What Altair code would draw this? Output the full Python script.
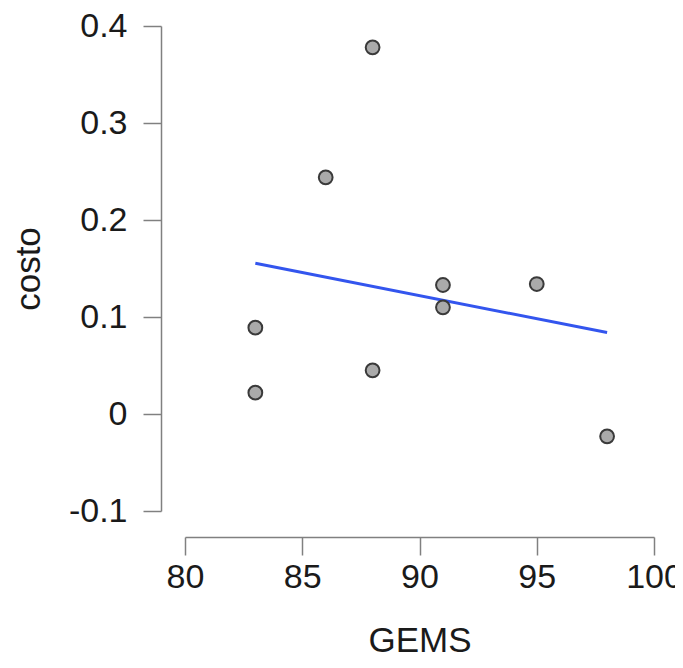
import altair as alt
import pandas as pd

gems = [83, 83, 86, 88, 88, 91, 91, 95, 98]
costo = [0.089, 0.022, 0.244, 0.378, 0.045, 0.133, 0.110, 0.134, -0.023]
x_ticks = [80, 85, 90, 95, 100]
y_ticks = [-0.1, 0, 0.1, 0.2, 0.3, 0.4]

df = pd.DataFrame({"GEMS": gems, "costo": costo})

FONT = "Liberation Sans"
FS = 34
TFS = 35
AX = "#808080"
TXT = "#1a1a1a"

x_enc = alt.X(
    "GEMS:Q",
    scale=alt.Scale(domain=[80, 100], nice=False, zero=False),
    axis=alt.Axis(
        values=x_ticks, title="GEMS", offset=26, grid=False,
        domainColor=AX, tickColor=AX, domainWidth=1.5, tickWidth=1.5,
        tickSize=18, labelPadding=5, labelFontSize=FS, labelColor=TXT,
        labelFont=FONT, titleFont=FONT, titleFontSize=TFS, titleFontWeight="normal",
        titleColor=TXT, titlePadding=29, labelOverlap=False, labelFlush=False,
    ),
)
y_enc = alt.Y(
    "costo:Q",
    scale=alt.Scale(domain=[-0.1, 0.4], nice=False, zero=False),
    axis=alt.Axis(
        values=y_ticks, title="costo", offset=24, grid=False,
        labelExpr="datum.value == 0 ? '0' : (datum.value < 0 ? '-' + format(-datum.value, '.1f') : format(datum.value, '.1f'))",
        domainColor=AX, tickColor=AX, domainWidth=1.5, tickWidth=1.5,
        tickSize=18, labelPadding=16, labelFontSize=FS, labelColor=TXT,
        labelFont=FONT, titleFont=FONT, titleFontSize=TFS, titleFontWeight="normal",
        titleColor=TXT, titlePadding=22, labelOverlap=False, labelFlush=False,
    ),
)

base = alt.Chart(df)

line = base.transform_regression("GEMS", "costo").mark_line(
    color="#3355ee", strokeWidth=3
).encode(x=x_enc, y=y_enc)

points = base.mark_point(
    filled=True, fill="#aaaaaa", stroke="#3a3a3a", strokeWidth=2,
    size=190, opacity=1, shape="circle"
).encode(x=x_enc, y=y_enc)

chart = alt.layer(line, points).properties(
    width=469, height=485,
    autosize=alt.AutoSizeParams(type="none"),
    padding={"left": 177, "top": 18, "right": 21, "bottom": 149},
    background="white",
).configure_view(strokeWidth=0, stroke="transparent")

chart.save("out.html", embed_options={"renderer": "svg", "actions": False})
